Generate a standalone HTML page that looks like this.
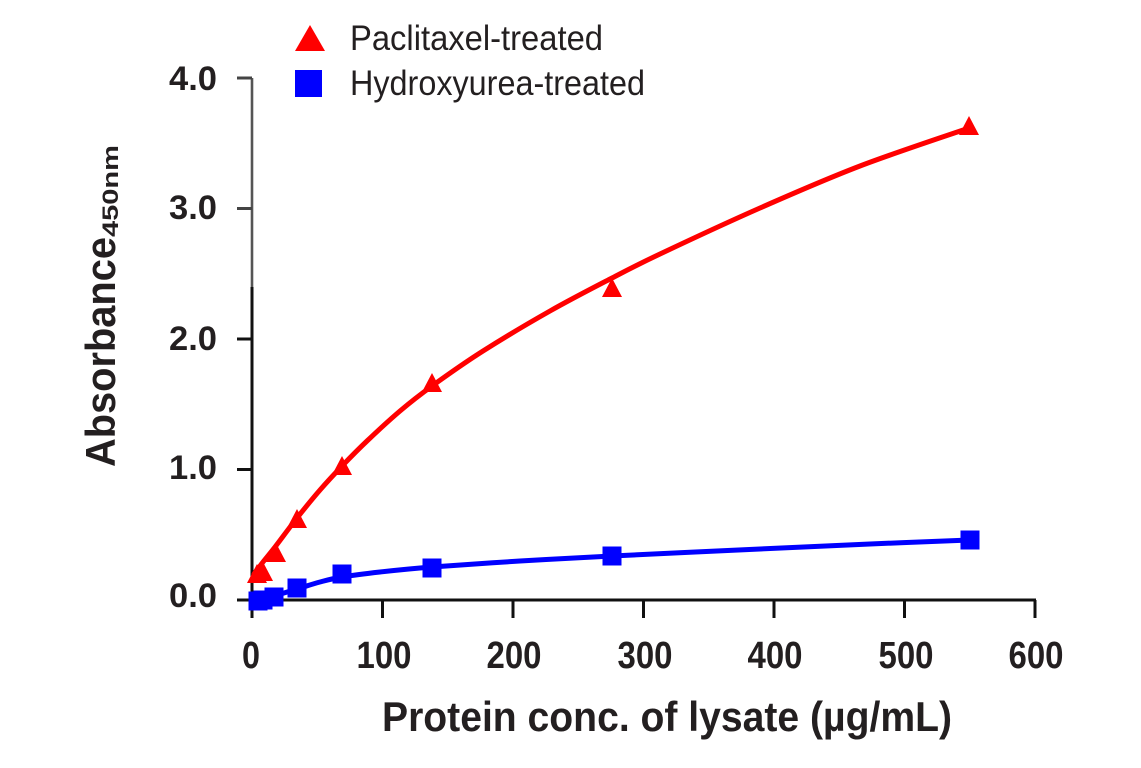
<!DOCTYPE html>
<html><head><meta charset="utf-8"><style>
html,body{margin:0;padding:0;background:#fff;}
svg{display:block;}
text{font-family:"Liberation Sans",sans-serif;font-weight:bold;fill:#231f20;}
</style></head><body>
<svg id="s" width="1141" height="768" viewBox="0 0 1141 768" xmlns="http://www.w3.org/2000/svg">
<rect width="1141" height="768" fill="#fff"/>
<!-- axes -->
<line x1="252" y1="78" x2="252" y2="288" stroke="#555" stroke-width="2.6"/>
<line x1="252" y1="287" x2="252" y2="618" stroke="#111" stroke-width="3"/>
<line x1="237" y1="600" x2="1036" y2="600" stroke="#111" stroke-width="3"/>
<g stroke="#111" stroke-width="3">
<line x1="237" y1="78" x2="252" y2="78" stroke="#444"/>
<line x1="237" y1="208.5" x2="252" y2="208.5" stroke="#444"/>
<line x1="237" y1="339" x2="252" y2="339"/>
<line x1="237" y1="469.5" x2="252" y2="469.5"/>
<line x1="382.5" y1="600" x2="382.5" y2="618"/>
<line x1="513" y1="600" x2="513" y2="618"/>
<line x1="643.5" y1="600" x2="643.5" y2="618"/>
<line x1="774" y1="600" x2="774" y2="618"/>
<line x1="904.5" y1="600" x2="904.5" y2="618"/>
<line x1="1035" y1="600" x2="1035" y2="618"/>
</g>
<!-- y tick labels -->
<g font-size="34" text-anchor="end">
<text x="217" y="90" textLength="48" lengthAdjust="spacingAndGlyphs">4.0</text>
<text x="217" y="219" textLength="48" lengthAdjust="spacingAndGlyphs">3.0</text>
<text x="217" y="350" textLength="48" lengthAdjust="spacingAndGlyphs">2.0</text>
<text x="217" y="479" textLength="48" lengthAdjust="spacingAndGlyphs">1.0</text>
<text x="217" y="607" textLength="48" lengthAdjust="spacingAndGlyphs">0.0</text>
</g>
<!-- x tick labels -->
<g font-size="38" text-anchor="middle">
<text x="251" y="668" textLength="18" lengthAdjust="spacingAndGlyphs">0</text>
<text x="384" y="668" textLength="55" lengthAdjust="spacingAndGlyphs">100</text>
<text x="514" y="668" textLength="55" lengthAdjust="spacingAndGlyphs">200</text>
<text x="645" y="668" textLength="55" lengthAdjust="spacingAndGlyphs">300</text>
<text x="775" y="668" textLength="55" lengthAdjust="spacingAndGlyphs">400</text>
<text x="906" y="668" textLength="55" lengthAdjust="spacingAndGlyphs">500</text>
<text x="1036" y="668" textLength="55" lengthAdjust="spacingAndGlyphs">600</text>
</g>
<!-- axis titles -->
<text x="382" y="731" font-size="42" textLength="570" lengthAdjust="spacingAndGlyphs">Protein conc. of lysate (µg/mL)</text>
<g transform="translate(115,467) rotate(-90)">
<text x="0" y="0" font-size="42" textLength="230" lengthAdjust="spacingAndGlyphs">Absorbance</text>
<text x="230" y="3" font-size="22" textLength="92" lengthAdjust="spacingAndGlyphs">450nm</text>
</g>
<!-- legend -->
<polygon points="310,25 295,51 325,51" fill="#ff0000"/>
<rect x="295" y="70" width="27" height="27" fill="#0000ff"/>
<g font-size="35">
<text x="350" y="50" textLength="253" lengthAdjust="spacingAndGlyphs" style="font-weight:normal">Paclitaxel-treated</text>
<text x="350" y="95" textLength="295" lengthAdjust="spacingAndGlyphs" style="font-weight:normal">Hydroxyurea-treated</text>
</g>
<path id="red" fill="none" stroke="#ff0000" stroke-width="5" stroke-linecap="round"/>
<path id="blue" fill="none" stroke="#0000ff" stroke-width="5" stroke-linecap="round"/>
<g id="markers"></g>
</svg>
<script>
function cr(pts){
  var d="M"+pts[0][0]+","+pts[0][1];
  for(var i=0;i<pts.length-1;i++){
    var p0=pts[i>0?i-1:0],p1=pts[i],p2=pts[i+1],p3=pts[i+2<pts.length?i+2:i+1];
    var c1x=p1[0]+(p2[0]-p0[0])/6,c1y=p1[1]+(p2[1]-p0[1])/6;
    var c2x=p2[0]-(p3[0]-p1[0])/6,c2y=p2[1]-(p3[1]-p1[1])/6;
    d+=" C"+c1x.toFixed(2)+","+c1y.toFixed(2)+" "+c2x.toFixed(2)+","+c2y.toFixed(2)+" "+p2[0]+","+p2[1];
  }
  return d;
}
var red=[[254,574],[263,562],[275,547],[297,518],[320,490],[343,465],[367,441],[400,411],[432,386],[483,351],[550,311],[612,278],[660,254],[760,208],[860,166],[969,128]];
var blue=[[252,601],[263,599],[274,596],[297,589],[320,582],[342,577],[380,572],[432,567],[520,561],[612,556],[760,549],[870,544],[970,540]];
document.getElementById("red").setAttribute("d",cr(red));
document.getElementById("blue").setAttribute("d",cr(blue));
var g=document.getElementById("markers"),ns="http://www.w3.org/2000/svg";
var tri=[[257,574],[263,572],[276,553],[297,519],[342,466],[432,383],[612,288],[969,126]];
var sq=[[258,601],[263,600],[274,597],[297,588],[342,574],[432,568],[612,556],[970,540]];
tri.forEach(function(p){
  var e=document.createElementNS(ns,"polygon");
  e.setAttribute("points",p[0]+","+(p[1]-10)+" "+(p[0]-10)+","+(p[1]+9)+" "+(p[0]+10)+","+(p[1]+9));
  e.setAttribute("fill","#ff0000");g.appendChild(e);
});
sq.forEach(function(p){
  var e=document.createElementNS(ns,"rect");
  e.setAttribute("x",p[0]-9.5);e.setAttribute("y",p[1]-9.5);
  e.setAttribute("width",19);e.setAttribute("height",19);
  e.setAttribute("fill","#0000ff");g.appendChild(e);
});
</script>
</body></html>
